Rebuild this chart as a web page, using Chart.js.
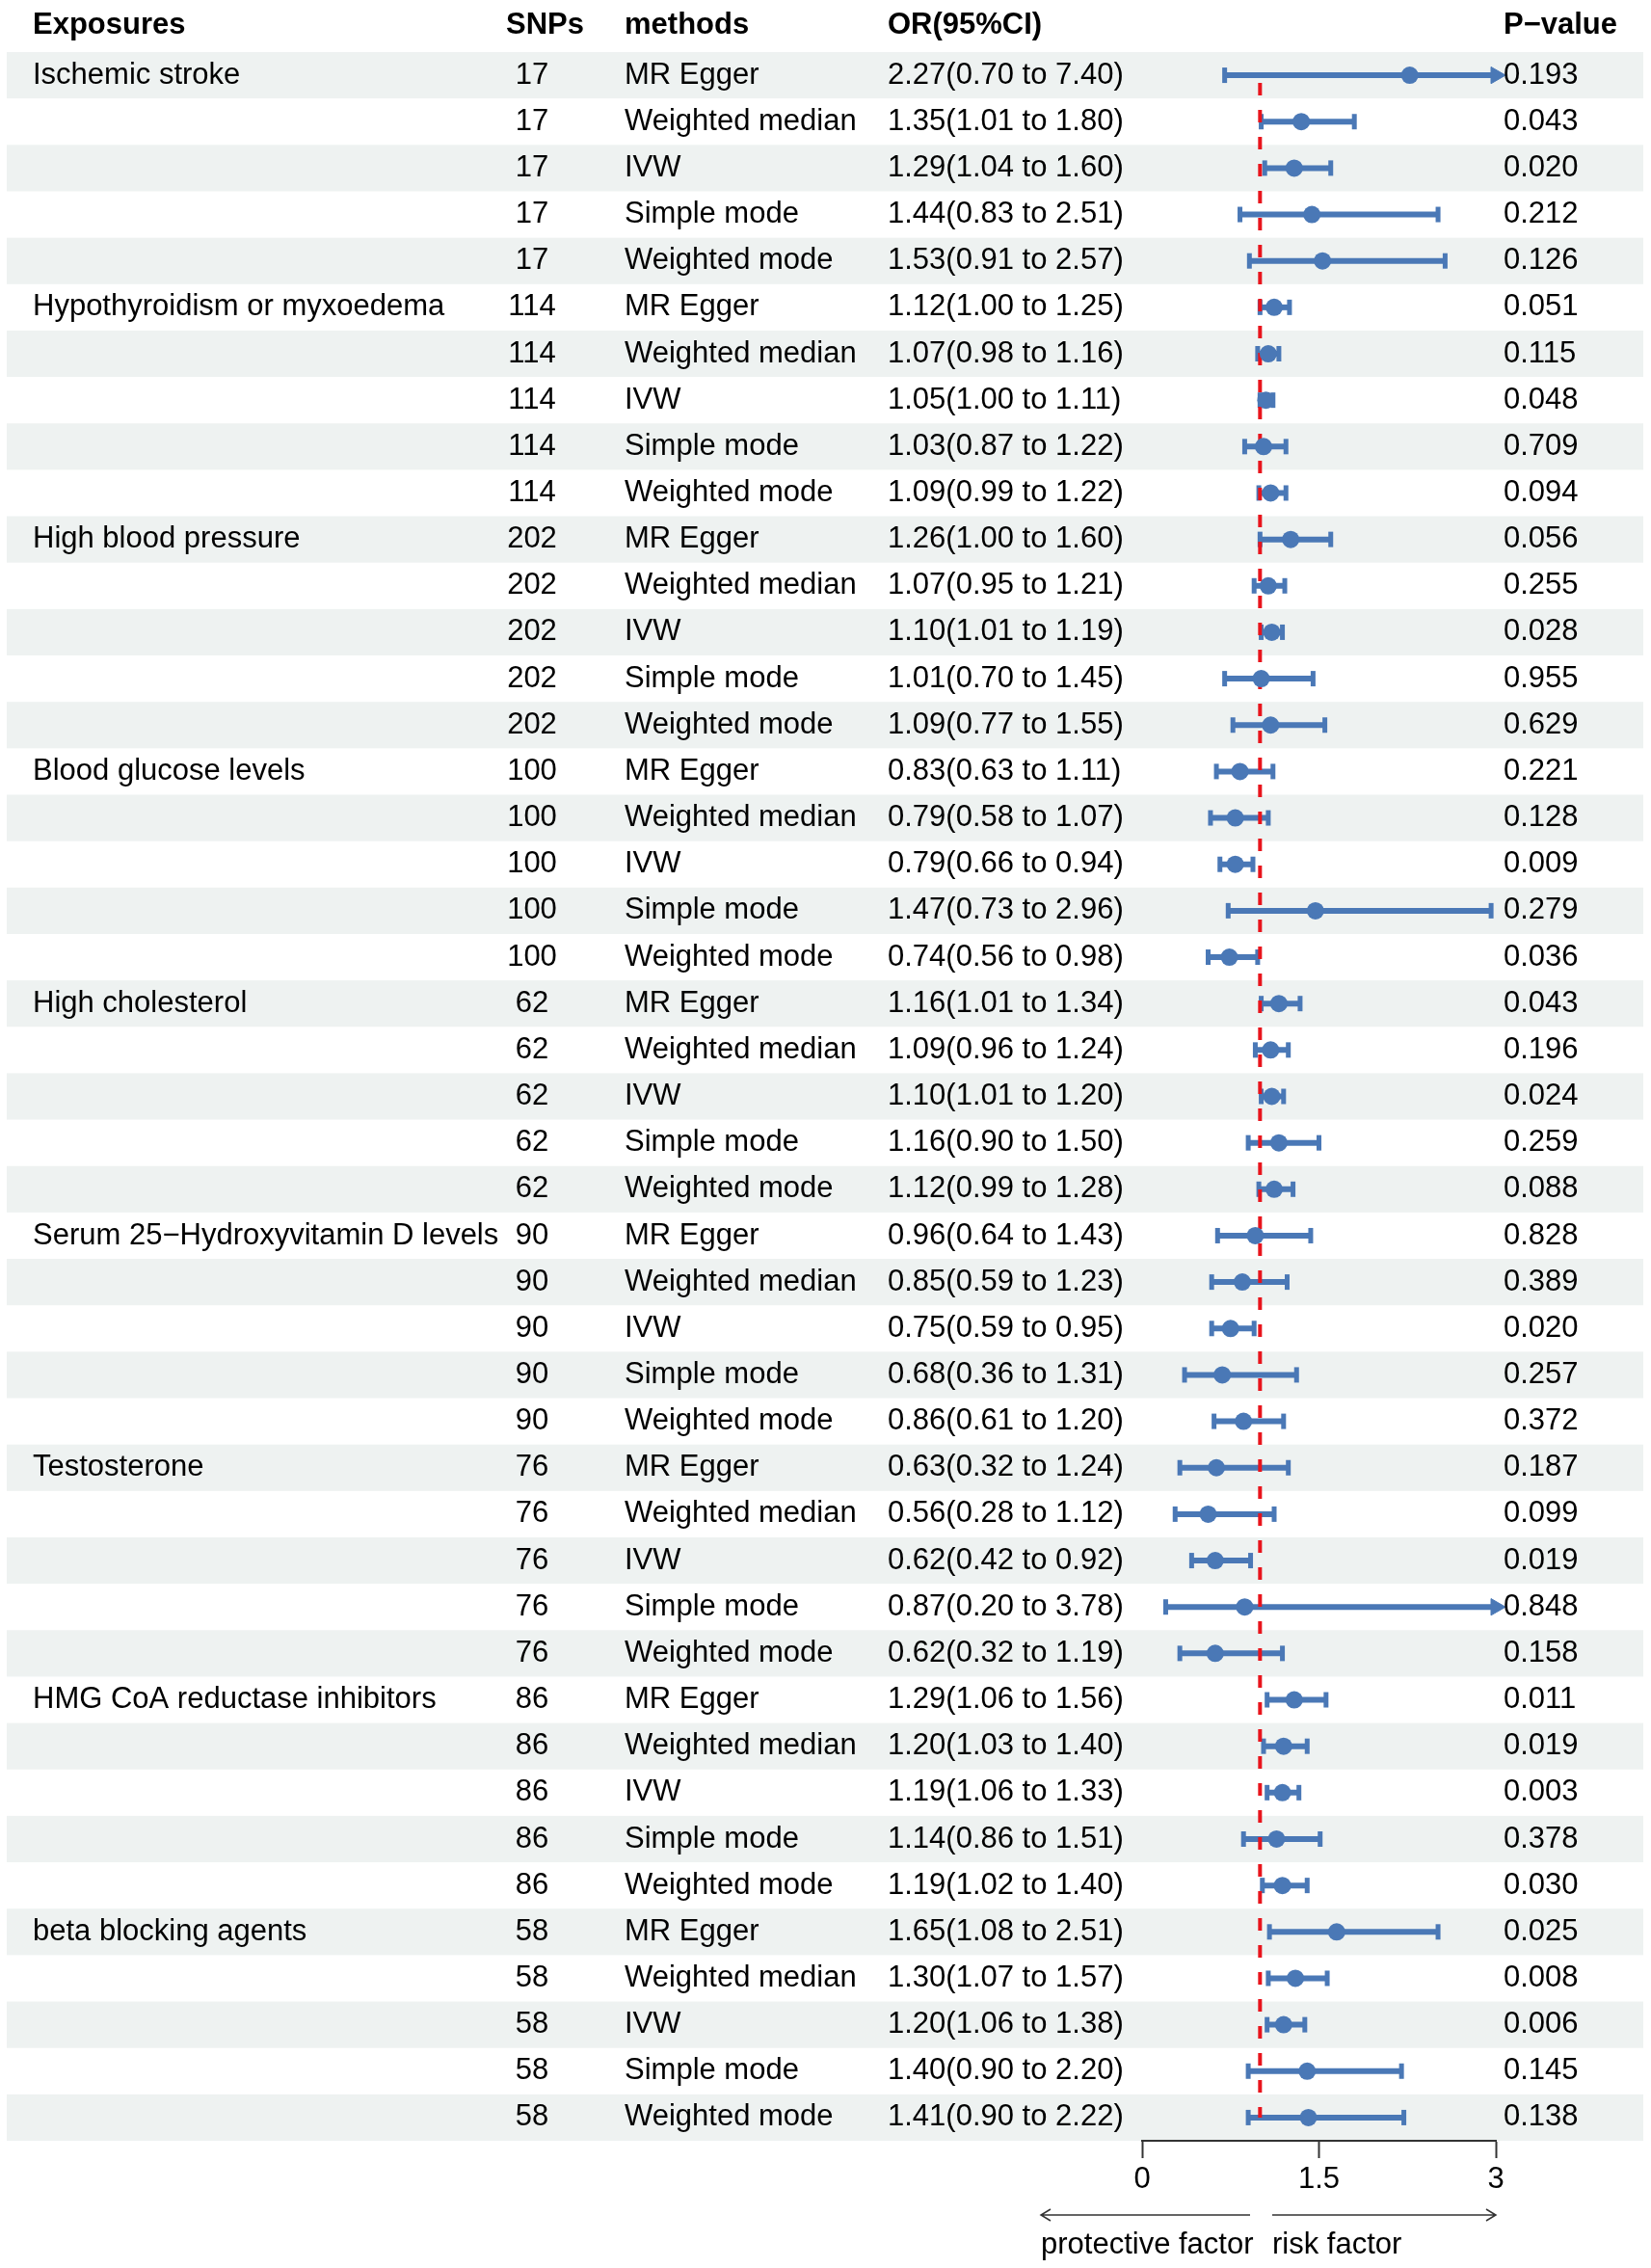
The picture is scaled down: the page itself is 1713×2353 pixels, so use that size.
<!DOCTYPE html>
<html>
<head>
<meta charset="utf-8">
<script src="https://cdn.jsdelivr.net/npm/chart.js@4.4.1/dist/chart.umd.min.js"></script>
<style>
  html, body { margin: 0; padding: 0; background: #fff; }
  canvas { display: block; }
</style>
</head>
<body>
<canvas id="forest" width="1713" height="2353"></canvas>
<script>
// exposures and their SNP counts (one group of 5 methods each)
const exposures = ['Ischemic stroke', 'Hypothyroidism or myxoedema', 'High blood pressure', 'Blood glucose levels',
  'High cholesterol', 'Serum 25\u2212Hydroxyvitamin D levels', 'Testosterone', 'HMG CoA reductase inhibitors', 'beta blocking agents'];
const snps = [17, 114, 202, 100, 62, 90, 76, 86, 58];
const methods = ['MR Egger', 'Weighted median', 'IVW', 'Simple mode', 'Weighted mode'];

const orValues = [
  2.27, 1.35, 1.29, 1.44, 1.53,
  1.12, 1.07, 1.05, 1.03, 1.09,
  1.26, 1.07, 1.10, 1.01, 1.09,
  0.83, 0.79, 0.79, 1.47, 0.74,
  1.16, 1.09, 1.10, 1.16, 1.12,
  0.96, 0.85, 0.75, 0.68, 0.86,
  0.63, 0.56, 0.62, 0.87, 0.62,
  1.29, 1.20, 1.19, 1.14, 1.19,
  1.65, 1.30, 1.20, 1.40, 1.41
];
const lowerCI = [
  0.70, 1.01, 1.04, 0.83, 0.91,
  1.00, 0.98, 1.00, 0.87, 0.99,
  1.00, 0.95, 1.01, 0.70, 0.77,
  0.63, 0.58, 0.66, 0.73, 0.56,
  1.01, 0.96, 1.01, 0.90, 0.99,
  0.64, 0.59, 0.59, 0.36, 0.61,
  0.32, 0.28, 0.42, 0.20, 0.32,
  1.06, 1.03, 1.06, 0.86, 1.02,
  1.08, 1.07, 1.06, 0.90, 0.90
];
const upperCI = [
  7.40, 1.80, 1.60, 2.51, 2.57,
  1.25, 1.16, 1.11, 1.22, 1.22,
  1.60, 1.21, 1.19, 1.45, 1.55,
  1.11, 1.07, 0.94, 2.96, 0.98,
  1.34, 1.24, 1.20, 1.50, 1.28,
  1.43, 1.23, 0.95, 1.31, 1.20,
  1.24, 1.12, 0.92, 3.78, 1.19,
  1.56, 1.40, 1.33, 1.51, 1.40,
  2.51, 1.57, 1.38, 2.20, 2.22
];
const pValues = [
  0.193, 0.043, 0.020, 0.212, 0.126,
  0.051, 0.115, 0.048, 0.709, 0.094,
  0.056, 0.255, 0.028, 0.955, 0.629,
  0.221, 0.128, 0.009, 0.279, 0.036,
  0.043, 0.196, 0.024, 0.259, 0.088,
  0.828, 0.389, 0.020, 0.257, 0.372,
  0.187, 0.099, 0.019, 0.848, 0.158,
  0.011, 0.019, 0.003, 0.378, 0.030,
  0.025, 0.008, 0.006, 0.145, 0.138
];
const xTicks = [0, 1.5, 3];
const xMax = 3;
const refLine = 1;

const blue = '#4a78b6';
const red = '#e8141c';
const band = '#eef2f1';
const font = '"Liberation Sans", Arial, sans-serif';
const nRows = orValues.length;

Chart.defaults.font.family = font;

// one small line dataset per row for the CI, arrow when cut at the axis max
const ciSets = orValues.map((v, i) => {
  const cut = upperCI[i] > xMax;
  return {
    data: [{ x: lowerCI[i], y: i }, { x: Math.min(upperCI[i], xMax), y: i }],
    showLine: true,
    borderColor: blue,
    borderWidth: 6,
    pointStyle: ['line', cut ? 'triangle' : 'line'],
    rotation: 90,
    pointRadius: [8, cut ? 10 : 8],
    pointBorderWidth: [5, cut ? 1 : 5],
    pointBorderColor: blue,
    pointBackgroundColor: blue,
    clip: false
  };
});

const datasets = [
  {
    data: orValues.map((v, i) => ({ x: v, y: i })),
    pointRadius: 9,
    pointBackgroundColor: blue,
    pointBorderWidth: 0,
    clip: false
  },
  {
    data: [{ x: refLine, y: 0 }, { x: refLine, y: nRows - 1 }],
    showLine: true,
    borderColor: red,
    borderWidth: 4,
    borderDash: [13, 15],
    borderDashOffset: 20,
    pointRadius: 0,
    clip: false
  },
  ...ciSets
];

const tablePlugin = {
  id: 'table',
  beforeDraw(chart) {
    const { ctx } = chart;
    const y = chart.scales.y;
    ctx.save();
    ctx.fillStyle = band;
    for (let i = 0; i < nRows; i += 2) {
      const t = y.getPixelForValue(i - 0.5);
      const b = y.getPixelForValue(i + 0.5);
      ctx.fillRect(7, t, 1698, b - t);
    }
    ctx.restore();
  },
  afterDraw(chart) {
    const { ctx } = chart;
    const y = chart.scales.y;
    ctx.save();
    ctx.fillStyle = '#000';
    ctx.textBaseline = 'middle';

    // header
    ctx.font = 'bold 31px ' + font;
    ctx.textAlign = 'left';
    ctx.fillText('Exposures', 34, 26);
    ctx.fillText('SNPs', 525, 26);
    ctx.fillText('methods', 648, 26);
    ctx.fillText('OR(95%CI)', 921, 26);
    ctx.fillText('P\u2212value', 1560, 26);

    ctx.font = '31px ' + font;
    for (let i = 0; i < nRows; i++) {
      const g = Math.floor(i / methods.length);
      const m = i % methods.length;
      const py = y.getPixelForValue(i);
      ctx.textAlign = 'left';
      if (m === 0) ctx.fillText(exposures[g], 34, py);
      ctx.fillText(methods[m], 648, py);
      ctx.fillText(orValues[i].toFixed(2) + '(' + lowerCI[i].toFixed(2) + ' to ' + upperCI[i].toFixed(2) + ')', 921, py);
      ctx.fillText(pValues[i].toFixed(3), 1560, py);
      ctx.textAlign = 'center';
      ctx.fillText(String(snps[g]), 552, py);
    }

    // direction arrows under the axis
    const ay = 2298;
    ctx.strokeStyle = '#333';
    ctx.lineWidth = 1.5;
    ctx.beginPath();
    ctx.moveTo(1297, ay); ctx.lineTo(1080, ay);
    ctx.moveTo(1090, ay - 6); ctx.lineTo(1080, ay); ctx.lineTo(1090, ay + 6);
    ctx.moveTo(1320, ay); ctx.lineTo(1552, ay);
    ctx.moveTo(1542, ay - 6); ctx.lineTo(1552, ay); ctx.lineTo(1542, ay + 6);
    ctx.stroke();
    ctx.textAlign = 'left';
    ctx.fillText('protective factor', 1080, 2329);
    ctx.fillText('risk factor', 1320, 2329);
    ctx.restore();
  }
};

new Chart(document.getElementById('forest'), {
  type: 'scatter',
  data: { datasets },
  options: {
    responsive: false,
    animation: false,
    events: [],
    layout: { padding: { left: 1185, right: 161, top: 54, bottom: 0 } },
    plugins: { legend: { display: false }, tooltip: { enabled: false } },
    scales: {
      x: {
        type: 'linear',
        min: 0,
        max: xMax,
        afterBuildTicks: s => { s.ticks = xTicks.map(v => ({ value: v })); },
        afterFit: s => { s.height = 132; },
        grid: { drawOnChartArea: false, drawTicks: true, tickLength: 18, tickColor: '#333', tickWidth: 2 },
        border: { display: true, color: '#333', width: 2 },
        ticks: { color: '#000', font: { size: 31 }, padding: 4, maxRotation: 0, autoSkip: false, callback: v => String(v) }
      },
      y: { type: 'linear', min: -0.5, max: nRows - 0.5, reverse: true, display: false }
    }
  },
  plugins: [tablePlugin]
});
</script>
</body>
</html>
